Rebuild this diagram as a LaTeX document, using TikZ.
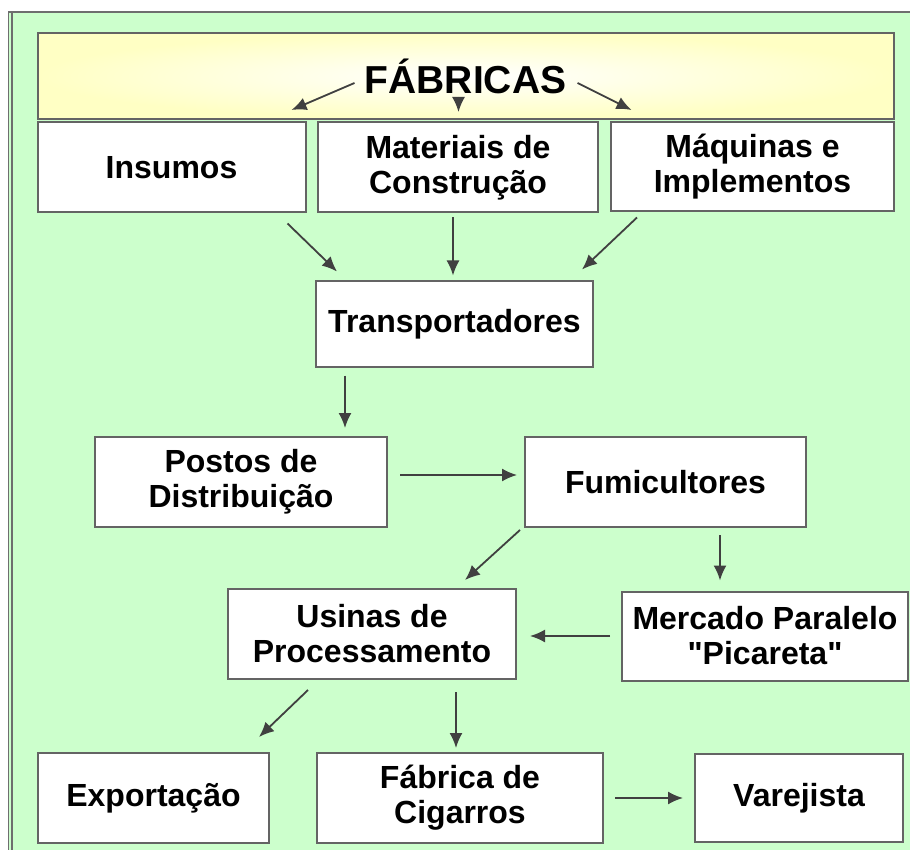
\documentclass[tikz,border=0pt]{standalone}
\usepackage{fontspec}
\setmainfont{Liberation Sans}[Ligatures=TeXOff]
\usetikzlibrary{arrows.meta}
\usetikzlibrary{calc}

\definecolor{fundo}{RGB}{204,255,204}
\definecolor{amarelo}{RGB}{255,255,196}
\definecolor{borda}{RGB}{100,100,100}
\definecolor{cinza}{RGB}{64,64,64}
\definecolor{moldura}{RGB}{110,110,110}

\begin{document}
\begin{tikzpicture}[x=1pt,y=-1pt,
  caixa/.style={draw=borda,line width=2pt,fill=white,align=center,inner sep=0pt,outer sep=0pt,
    font=\bfseries\fontsize{32}{35}\selectfont},
  seta/.style={-{Latex[length=15pt,width=13pt]},line width=1.8pt,color=cinza}]
\useasboundingbox (0,0) rectangle (910,850);
\fill[white] (0,0) rectangle (910,850);
\fill[fundo] (8,12) rectangle (910,850);
\draw[line width=1.8pt,color=moldura] (8.5,850) -- (8.5,12) -- (910,12);
\draw[line width=1.8pt,color=moldura] (12,850) -- (12,12);

\node[caixa,minimum width=856pt,minimum height=86pt,inner color=white,outer color=amarelo,
  font=\bfseries\fontsize{39}{42}\selectfont] (fab) at (465.5,76) {FÁBRICAS};
\node[caixa,minimum width=268pt,minimum height=90pt] (ins) at (171.5,167.5) {Insumos};
\node[caixa,minimum width=280pt,minimum height=90pt] (mat) at (458,167.5) {Materiais de\\Construção};
\node[caixa,minimum width=283pt,minimum height=89pt] (maq) at (752.5,167) {Máquinas e\\Implementos};
\node[caixa,minimum width=277pt,minimum height=85pt] (tra) at (454.5,324) {Transportadores};
\node[caixa,minimum width=292pt,minimum height=90pt] (pos) at (241,482) {Postos de\\Distribuição};
\node[caixa,minimum width=281pt,minimum height=90pt] (fum) at (665.5,482) {Fumicultores};
\node[caixa,minimum width=288pt,minimum height=90pt] (usi) at (372,634) {Usinas de\\Processamento};
\node[caixa,minimum width=286pt,minimum height=89pt] (mer) at (765,636) {Mercado Paralelo\\"Picareta"};
\node[caixa,minimum width=231pt,minimum height=90pt] (exp) at (153.5,798) {Exportação};
\node[caixa,minimum width=286pt,minimum height=90pt] (fc) at (460,798) {Fábrica de\\Cigarros};
\node[caixa,minimum width=208pt,minimum height=88pt] (var) at (799,798) {Varejista};

% setas da fabrica
\draw[seta] ($(fab.center)+(-111,7)$) -- ($(fab.center)+(-174,34)$);
\draw[seta] ($(fab.center)+(-7,21)$) -- ($(fab.center)+(-7,36)$);
\draw[seta] ($(fab.center)+(112,7)$) -- ($(fab.center)+(166,34)$);

\draw[seta] ($(ins.south east)+(-18,11)$) -- ($(tra.north west)+(21,-10)$);
\draw[seta] ($(mat.south)+(-5,5)$) -- ($(tra.north)+(-1.5,-6)$);
\draw[seta] ($(maq.south west)+(26,6)$) -- ($(tra.north east)+(-11,-12)$);
\draw[seta] ($(tra.south west)+(29,9)$) -- ($(pos.north east)+(-42,-9)$);
\draw[seta] ($(pos.east)+(13,-7)$) -- ($(fum.west)+(-8,-7)$);
\draw[seta] ($(fum.south west)+(-5,3)$) -- ($(usi.north east)+(-51,-9)$);
\draw[seta] ($(fum.south)+(54.5,8)$) -- ($(mer.north)+(-45,-11)$);
\draw[seta] ($(mer.west)+(-12,0)$) -- ($(usi.east)+(14,2)$);
\draw[seta] ($(usi.south west)+(80,11)$) -- ($(exp.north east)+(-10,-16)$);
\draw[seta] ($(usi.south)+(84,13)$) -- ($(fc.north)+(-4,-5)$);
\draw[seta] ($(fc.east)+(12,0)$) -- ($(var.west)+(-12,0)$);

\end{tikzpicture}
\end{document}
